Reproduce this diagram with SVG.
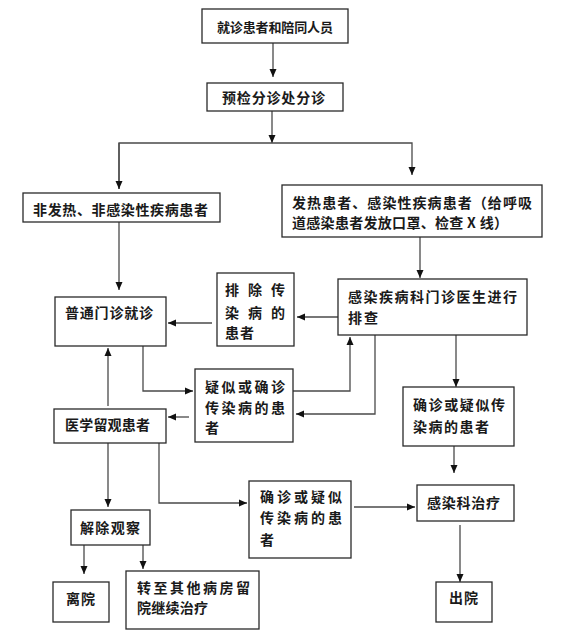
<svg xmlns="http://www.w3.org/2000/svg" width="567" height="632" viewBox="0 0 567 632">
<style>
.box{fill:#fff;stroke:#2a2a2a;stroke-width:1.3}
.t{font-family:"Noto Sans CJK SC","Noto Sans",sans-serif;font-size:14px;font-weight:bold;fill:#1a1a1a}
.c{fill:none;stroke:#4a4a4a;stroke-width:1.3}
</style>
<defs>
<marker id="ah" markerUnits="userSpaceOnUse" markerWidth="10" markerHeight="10" viewBox="0 0 10 10" refX="9" refY="5" orient="auto">
<path d="M1,1.5 L9,5 L1,8.5 Z" fill="#111"/>
</marker>
</defs>
<rect width="567" height="632" fill="#fff"/>
<g id="connectors">
<path class="c" d="M273,43 V77" marker-end="url(#ah)"/>
<path class="c" d="M272,111 V143" marker-end="url(#ah)"/>
<path class="c" d="M119,189 V143 H412 V175" marker-end="url(#ah)"/>
<path class="c" d="M119,143 V189" marker-end="url(#ah)"/>
<path class="c" d="M119,222 V290" marker-end="url(#ah)"/>
<path class="c" d="M420,237 V278" marker-end="url(#ah)"/>
<path class="c" d="M338,317 H297" marker-end="url(#ah)"/>
<path class="c" d="M212,323 H168" marker-end="url(#ah)"/>
<path class="c" d="M143,346 V391 H193" marker-end="url(#ah)"/>
<path class="c" d="M293,391 H350 V337" marker-end="url(#ah)"/>
<path class="c" d="M375,335 V414 H296" marker-end="url(#ah)"/>
<path class="c" d="M456,335 V387" marker-end="url(#ah)"/>
<path class="c" d="M189,417 H168" marker-end="url(#ah)"/>
<path class="c" d="M108,406 V348" marker-end="url(#ah)"/>
<path class="c" d="M454,446 V473" marker-end="url(#ah)"/>
<path class="c" d="M108,443 V507" marker-end="url(#ah)"/>
<path class="c" d="M159,443 V503 H247" marker-end="url(#ah)"/>
<path class="c" d="M354,507 H415" marker-end="url(#ah)"/>
<path class="c" d="M460,525 V582" marker-end="url(#ah)"/>
<path class="c" d="M84,545 V574" marker-end="url(#ah)"/>
<path class="c" d="M143,545 V569" marker-end="url(#ah)"/>
</g>
<g id="n1"><rect class="box" x="202" y="9" width="146" height="34"/>
<text class="t" style="font-size:13px" x="217" y="32" textLength="116" lengthAdjust="spacing">就诊患者和陪同人员</text></g>
<g id="n2"><rect class="box" x="207" y="83" width="136" height="28"/>
<text class="t" x="222" y="103" textLength="103" lengthAdjust="spacing">预检分诊处分诊</text></g>
<g id="n3"><rect class="box" x="23" y="193" width="197" height="29"/>
<text class="t" x="33" y="215" textLength="175" lengthAdjust="spacing">非发热、非感染性疾病患者</text></g>
<g id="n4"><rect class="box" x="282" y="185" width="260" height="52"/>
<text class="t" x="292" y="208" textLength="240" lengthAdjust="spacing">发热患者、感染性疾病患者（给呼吸</text>
<text class="t" x="292" y="228" textLength="216" lengthAdjust="spacing">道感染患者发放口罩、检查 X 线）</text></g>
<g id="n5"><rect class="box" x="55" y="297" width="111" height="49"/>
<text class="t" x="65" y="318" textLength="88" lengthAdjust="spacing">普通门诊就诊</text></g>
<g id="n6"><rect class="box" x="217" y="273" width="77" height="73"/>
<text class="t" x="225" y="295" textLength="60" lengthAdjust="spacing">排除传</text>
<text class="t" x="225" y="318" textLength="60" lengthAdjust="spacing">染病的</text>
<text class="t" x="225" y="338" textLength="29" lengthAdjust="spacing">患者</text></g>
<g id="n7"><rect class="box" x="338" y="279" width="189" height="56"/>
<text class="t" x="348" y="302" textLength="169" lengthAdjust="spacing">感染疾病科门诊医生进行</text>
<text class="t" x="348" y="323" textLength="30" lengthAdjust="spacing">排查</text></g>
<g id="n8"><rect class="box" x="195" y="369" width="98" height="73"/>
<text class="t" x="205" y="392" textLength="80" lengthAdjust="spacing">疑似或确诊</text>
<text class="t" x="205" y="413" textLength="80" lengthAdjust="spacing">传染病的患</text>
<text class="t" x="205" y="433">者</text></g>
<g id="n9"><rect class="box" x="403" y="387" width="111" height="59"/>
<text class="t" x="413" y="410" textLength="92" lengthAdjust="spacing">确诊或疑似传</text>
<text class="t" x="413" y="432" textLength="76" lengthAdjust="spacing">染病的患者</text></g>
<g id="n10"><rect class="box" x="54" y="409" width="112" height="34"/>
<text class="t" x="65" y="430" textLength="85" lengthAdjust="spacing">医学留观患者</text></g>
<g id="n11"><rect class="box" x="71" y="510" width="79" height="35"/>
<text class="t" x="80" y="533" textLength="60" lengthAdjust="spacing">解除观察</text></g>
<g id="n12"><rect class="box" x="249" y="481" width="102" height="77"/>
<text class="t" x="260" y="502" textLength="82" lengthAdjust="spacing">确诊或疑似</text>
<text class="t" x="260" y="523" textLength="82" lengthAdjust="spacing">传染病的患</text>
<text class="t" x="260" y="545">者</text></g>
<g id="n13"><rect class="box" x="417" y="485" width="97" height="36"/>
<text class="t" x="427" y="508" textLength="73" lengthAdjust="spacing">感染科治疗</text></g>
<g id="n14"><rect class="box" x="53" y="582" width="56" height="40"/>
<text class="t" x="66" y="604" textLength="29" lengthAdjust="spacing">离院</text></g>
<g id="n15"><rect class="box" x="126" y="571" width="133" height="58"/>
<text class="t" x="137" y="593" textLength="113" lengthAdjust="spacing">转至其他病房留</text>
<text class="t" x="137" y="613" textLength="71" lengthAdjust="spacing">院继续治疗</text></g>
<g id="n16"><rect class="box" x="436" y="582" width="56" height="40"/>
<text class="t" x="449" y="603" textLength="29" lengthAdjust="spacing">出院</text></g>
</svg>
